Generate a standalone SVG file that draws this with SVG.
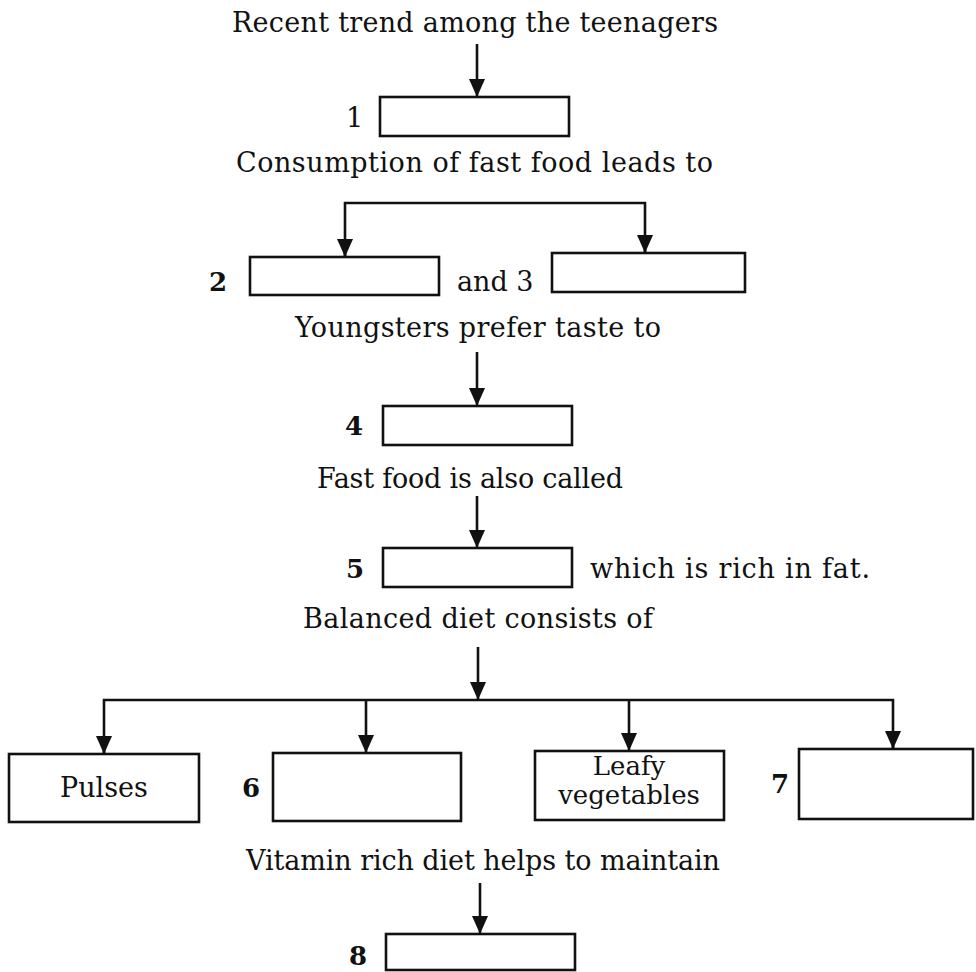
<svg xmlns="http://www.w3.org/2000/svg" width="976" height="972" viewBox="0 0 976 972">
<defs>
<style>
text{font-family:"DejaVu Serif","Liberation Serif",serif;font-size:27px;fill:#111}
.c{text-anchor:middle}
.n{font-weight:bold;font-size:26px}
.s{font-size:26px}
.box{fill:#fff;stroke:#111;stroke-width:2.6}
.ln{fill:none;stroke:#111;stroke-width:2.6;stroke-linejoin:miter}
</style>
<marker id="ah" markerUnits="userSpaceOnUse" viewBox="0 0 18 16" markerWidth="18" markerHeight="16" refX="18" refY="8" orient="auto">
<path d="M0,0 L18,8 L0,16 z" fill="#111"/>
</marker>
</defs>
<rect width="976" height="972" fill="#fff"/>
<g id="texts">
<text x="232" y="32" textLength="486">Recent trend among the teenagers</text>
<text x="236" y="172" textLength="477">Consumption of fast food leads to</text>
<text x="295" y="337" textLength="366">Youngsters prefer taste to</text>
<text x="317" y="488" textLength="306">Fast food is also called</text>
<text x="303" y="628" textLength="350">Balanced diet consists of</text>
<text x="246" y="870" textLength="474">Vitamin rich diet helps to maintain</text>
</g>
<g id="connectors">
<line class="ln" x1="477" y1="44" x2="477" y2="97" marker-end="url(#ah)"/>
<path class="ln" d="M345,257 V203 H645 V253"/>
<line class="ln" x1="345" y1="240" x2="345" y2="257" marker-end="url(#ah)"/>
<line class="ln" x1="645" y1="236" x2="645" y2="253" marker-end="url(#ah)"/>
<line class="ln" x1="477" y1="352" x2="477" y2="406" marker-end="url(#ah)"/>
<line class="ln" x1="477" y1="496" x2="477" y2="548" marker-end="url(#ah)"/>
<line class="ln" x1="478" y1="647" x2="478" y2="700" marker-end="url(#ah)"/>
<path class="ln" d="M104,754 V700 H893 V749"/>
<line class="ln" x1="104" y1="737" x2="104" y2="754" marker-end="url(#ah)"/>
<line class="ln" x1="366" y1="700" x2="366" y2="753" marker-end="url(#ah)"/>
<line class="ln" x1="629" y1="700" x2="629" y2="751" marker-end="url(#ah)"/>
<line class="ln" x1="893" y1="732" x2="893" y2="749" marker-end="url(#ah)"/>
<line class="ln" x1="480" y1="883" x2="480" y2="934" marker-end="url(#ah)"/>
</g>
<g id="node1"><text x="346" y="127">1</text><rect class="box" x="380" y="97" width="189" height="39"/></g>
<g id="node2"><text class="n" x="209" y="291">2</text><rect class="box" x="250" y="257" width="189" height="38"/></g>
<g id="node3"><text x="457" y="291">and 3</text><rect class="box" x="552" y="253" width="193" height="39"/></g>
<g id="node4"><text class="n" x="345" y="435">4</text><rect class="box" x="383" y="406" width="189" height="39"/></g>
<g id="node5"><text class="n" x="346" y="578">5</text><rect class="box" x="383" y="548" width="189" height="39"/><text x="590" y="578" textLength="280">which is rich in fat.</text></g>
<g id="node-pulses"><rect class="box" x="9" y="754" width="190" height="68"/><text class="c" x="104" y="797">Pulses</text></g>
<g id="node6"><text class="n" x="242" y="797">6</text><rect class="box" x="273" y="753" width="188" height="68"/></g>
<g id="node-leafy"><rect class="box" x="535" y="751" width="189" height="69"/><text class="c s" x="629" y="775">Leafy</text><text class="c s" x="629" y="804">vegetables</text></g>
<g id="node7"><text class="n" x="771" y="793">7</text><rect class="box" x="799" y="749" width="174" height="70"/></g>
<g id="node8"><text class="n" x="349" y="965">8</text><rect class="box" x="386" y="934" width="189" height="36"/></g>
</svg>
